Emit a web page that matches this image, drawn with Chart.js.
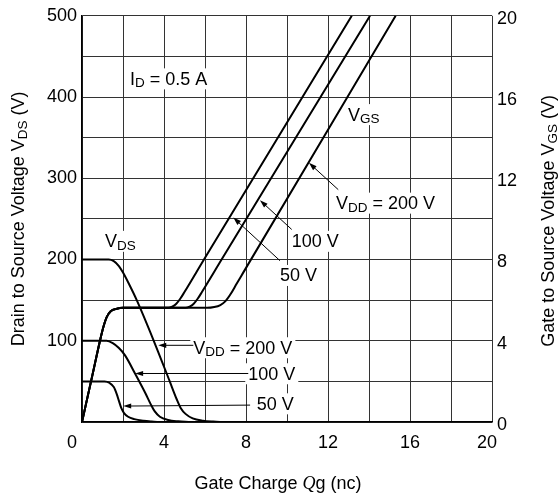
<!DOCTYPE html>
<html>
<head>
<meta charset="utf-8">
<script src="https://cdn.jsdelivr.net/npm/chart.js@4.4.1/dist/chart.umd.min.js"></script>
<style>
  html, body { margin: 0; padding: 0; background: #fff; }
  #wrap { width: 560px; height: 500px; position: relative; }
</style>
</head>
<body>
<div id="wrap"><canvas id="gateChart"></canvas></div>
<script>
// Gate charge Qg (nC) against VGS (right axis) and VDS (left axis), ID = 0.5 A

// VGS: common rise up to the Miller plateau
const vgsRiseQ = [0, 0.5, 0.9, 1.05, 1.2, 1.4, 1.7, 2.0];
const vgsRiseV = [0, 2.27, 4.1, 4.7, 5.15, 5.45, 5.58, 5.62];
// VGS after the plateau, per VDD
const vgs50Q = [4.2, 4.4, 4.6, 4.8, 5.0, 5.95, 13.16];
const vgs50V = [5.62, 5.68, 5.82, 6.08, 6.4, 8, 20];
const vgs100Q = [5.05, 5.25, 5.45, 5.65, 5.85, 6.81, 14.05];
const vgs100V = [5.62, 5.68, 5.82, 6.08, 6.4, 8, 20];
const vgs200Q = [6.1, 6.45, 6.75, 7.0, 7.25, 7.55, 7.85, 15.3];
const vgs200V = [5.62, 5.66, 5.76, 5.95, 6.3, 6.82, 7.33, 20];

// VDS curves
const vds200Q = [0, 1.3, 1.55, 1.8, 2.0, 2.25, 2.67, 3.5, 4.28, 4.62, 4.82, 5.05, 5.4, 5.9, 6.4, 6.9];
const vds200V = [200, 200, 198, 192, 184, 172, 150, 100, 50, 28, 17, 10, 4.5, 1.6, 0.5, 0];
const vds100Q = [0, 1.2, 1.5, 1.8, 2.1, 2.6, 3.1, 3.35, 3.55, 3.8, 4.2, 4.7, 5.2];
const vds100V = [100, 100, 97, 91, 82, 59, 35, 22, 13, 6.5, 2.5, 0.8, 0];
const vds50Q = [0, 1.1, 1.35, 1.55, 1.7, 1.8, 1.92, 2.05, 2.25, 2.55, 3.0, 3.4, 3.8];
const vds50V = [50, 50, 48, 43, 34, 26, 17, 11, 6.5, 3.5, 1.4, 0.5, 0];

// tick settings
const qgTicks = [0, 4, 8, 12, 16, 20];
const vdsTicks = [100, 200, 300, 400, 500];
const vgsTicks = [0, 4, 8, 12, 16, 20];

const FONT = '"Liberation Sans", Arial, Helvetica, sans-serif';
const SERIF = '"Liberation Serif", "DejaVu Serif", serif';
const TXT = 18;

Chart.defaults.font.family = FONT;
Chart.defaults.font.size = TXT;
Chart.defaults.color = '#000';

function pts(q, v) {
    return q.map((x, i) => ({ x: x, y: v[i] }));
}

function curve(q, v, axis) {
    return {
        data: pts(q, v),
        yAxisID: axis,
        borderColor: '#000',
        borderWidth: 2,
        pointRadius: 0,
        fill: false,
        cubicInterpolationMode: 'monotone'
    };
}

// text pieces: [text, kind] kind = 'sub' | 'it' | undefined
function fontFor(p, size) {
    if (p[1] === 'sub') return (size * 0.75) + 'px ' + FONT;
    if (p[1] === 'it') return 'italic ' + size + 'px ' + SERIF;
    return size + 'px ' + FONT;
}
function partsWidth(ctx, parts, size) {
    let w = 0;
    parts.forEach(p => {
        ctx.font = fontFor(p, size);
        w += ctx.measureText(p[0]).width;
    });
    return w;
}
function drawParts(ctx, parts, x, y, size) {
    ctx.textAlign = 'left';
    ctx.textBaseline = 'alphabetic';
    const base = y + size * 0.36;
    parts.forEach(p => {
        ctx.font = fontFor(p, size);
        const dy = p[1] === 'sub' ? size * 0.14 : 0;
        ctx.fillText(p[0], x, base + dy);
        x += ctx.measureText(p[0]).width;
    });
}
function arrow(ctx, x1, y1, x2, y2) {
    const a = Math.atan2(y2 - y1, x2 - x1);
    ctx.beginPath();
    ctx.moveTo(x1, y1);
    ctx.lineTo(x2 - 5 * Math.cos(a), y2 - 5 * Math.sin(a));
    ctx.stroke();
    ctx.beginPath();
    ctx.moveTo(x2, y2);
    ctx.lineTo(x2 - 8 * Math.cos(a) + 2.6 * Math.sin(a), y2 - 8 * Math.sin(a) - 2.6 * Math.cos(a));
    ctx.lineTo(x2 - 8 * Math.cos(a) - 2.6 * Math.sin(a), y2 - 8 * Math.sin(a) + 2.6 * Math.cos(a));
    ctx.closePath();
    ctx.fill();
}

// labels placed in chart units (q in nC, v on the VDS axis)
const notes = [
    { parts: [['I'], ['D', 'sub'], [' = 0.5 A']], q: 2.34, v: 423 },
    { parts: [['V'], ['DS', 'sub']], q: 1.12, v: 223 },
    { parts: [['V'], ['GS', 'sub']], q: 12.98, v: 379 },
    { parts: [['V'], ['DD', 'sub'], [' = 200 V']], q: 12.39, v: 270, from: [12.5, 286], to: [11.07, 319] },
    { parts: [['100 V']], q: 10.23, v: 223, from: [10.23, 237], to: [8.68, 273] },
    { parts: [['50 V']], q: 9.66, v: 181, from: [9.66, 198.5], to: [7.38, 251.6] },
    { parts: [['V'], ['DD', 'sub'], [' = 200 V']], q: 5.43, v: 92, from: [5.43, 94.4], to: [3.72, 94.4] },
    { parts: [['100 V']], q: 8.11, v: 60, from: [8.11, 59.7], to: [2.59, 59.7] },
    { parts: [['50 V']], q: 8.52, v: 23, from: [8.2, 20.8], to: [2.01, 19.6] }
];

const annotate = {
    id: 'annotate',
    afterDatasetsDraw(chart) {
        const ctx = chart.ctx;
        const sx = chart.scales.x, sy = chart.scales.y;
        ctx.save();
        notes.forEach(n => {
            const x = sx.getPixelForValue(n.q), y = sy.getPixelForValue(n.v);
            const w = partsWidth(ctx, n.parts, TXT);
            ctx.fillStyle = '#fff';
            ctx.fillRect(x - 3, y - 10, w + 6, 21);
        });
        ctx.fillStyle = '#000';
        ctx.strokeStyle = '#000';
        ctx.lineWidth = 1;
        notes.forEach(n => {
            const x = sx.getPixelForValue(n.q), y = sy.getPixelForValue(n.v);
            drawParts(ctx, n.parts, x, y, TXT);
            if (n.from) {
                arrow(ctx, sx.getPixelForValue(n.from[0]), sy.getPixelForValue(n.from[1]),
                    sx.getPixelForValue(n.to[0]), sy.getPixelForValue(n.to[1]));
            }
        });

        // axis titles
        const area = chart.chartArea;
        const midY = (area.top + area.bottom) / 2;
        const left = [['Drain to Source Voltage V'], ['DS', 'sub'], [' (V)']];
        const right = [['Gate to Source Voltage V'], ['GS', 'sub'], [' (V)']];
        const bottom = [['Gate Charge '], ['Q', 'it'], ['g (nc)']];
        [[left, 18, midY], [right, 548, midY + 2]].forEach(t => {
            const w = partsWidth(ctx, t[0], TXT);
            ctx.save();
            ctx.translate(t[1], t[2]);
            ctx.rotate(-Math.PI / 2);
            drawParts(ctx, t[0], -w / 2, 0, TXT);
            ctx.restore();
        });
        const bw = partsWidth(ctx, bottom, TXT);
        drawParts(ctx, bottom, (area.left + area.right) / 2 - 9 - bw / 2, 483, TXT);
        ctx.restore();
    }
};

const gridColor = '#333';

new Chart(document.getElementById('gateChart'), {
    type: 'line',
    data: {
        datasets: [
            curve(vgsRiseQ.concat(vgs50Q), vgsRiseV.concat(vgs50V), 'y2'),
            curve(vgsRiseQ.concat(vgs100Q), vgsRiseV.concat(vgs100V), 'y2'),
            curve(vgsRiseQ.concat(vgs200Q), vgsRiseV.concat(vgs200V), 'y2'),
            curve(vds200Q, vds200V, 'y'),
            curve(vds100Q, vds100V, 'y'),
            curve(vds50Q, vds50V, 'y')
        ]
    },
    options: {
        responsive: true,
        maintainAspectRatio: false,
        animation: false,
        events: [],
        layout: { padding: { top: 14, left: 0, right: 0, bottom: 0 } },
        plugins: {
            legend: { display: false },
            tooltip: { enabled: false }
        },
        scales: {
            x: {
                type: 'linear',
                min: 0,
                max: 20,
                afterFit: s => { s.height = 78; },
                border: { color: '#000', width: 1.5 },
                grid: { color: gridColor, lineWidth: 1, drawTicks: false },
                ticks: {
                    stepSize: 2,
                    autoSkip: false,
                    maxRotation: 0,
                    padding: 10,
                    // the corner "0" and "20" sit a little left of their grid lines
                    callback: v => {
                        if (!qgTicks.includes(v)) return '';
                        if (v === 0) return '0    ';
                        if (v === 20) return '20  ';
                        return String(v);
                    }
                }
            },
            y: {
                position: 'left',
                min: 0,
                max: 500,
                afterFit: s => { s.width = 82; },
                border: { color: '#000', width: 1.5 },
                grid: { color: gridColor, lineWidth: 1, drawTicks: false },
                ticks: {
                    stepSize: 50,
                    autoSkip: false,
                    padding: 5,
                    callback: v => vdsTicks.includes(v) ? String(v) : ''
                }
            },
            y2: {
                position: 'right',
                min: 0,
                max: 20,
                afterFit: s => { s.width = 68; },
                border: { display: false },
                grid: { display: false, drawTicks: false },
                ticks: {
                    stepSize: 4,
                    autoSkip: false,
                    padding: 5,
                    labelOffset: 3,
                    callback: v => vgsTicks.includes(v) ? String(v) : ''
                }
            }
        }
    },
    plugins: [annotate]
});
</script>
</body>
</html>
